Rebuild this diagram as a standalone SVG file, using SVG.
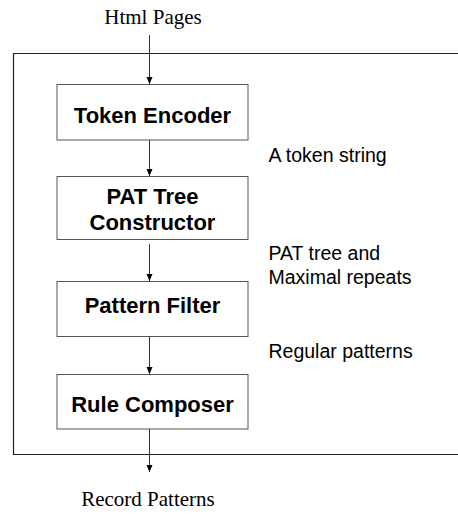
<svg xmlns="http://www.w3.org/2000/svg" width="458" height="514" viewBox="0 0 458 514">
  <style>
    .box { fill: #ffffff; stroke: #555555; stroke-width: 1; }
    .frame { fill: none; stroke: #222222; stroke-width: 1.2; }
    .title { font-family: "Liberation Sans", Arial, sans-serif; font-weight: bold; font-size: 22px; fill: #000000; text-anchor: middle; }
    .note { font-family: "Liberation Sans", Arial, sans-serif; font-size: 19.5px; fill: #000000; }
    .io { font-family: "Liberation Serif", "Times New Roman", serif; font-size: 21px; fill: #000000; text-anchor: middle; }
    .flow { stroke: #333333; stroke-width: 1; fill: none; marker-end: url(#head); }
  </style>
  <defs>
    <marker id="head" viewBox="0 0 7 7" refX="7" refY="3.5" markerWidth="7" markerHeight="7" orient="auto" markerUnits="userSpaceOnUse">
      <path d="M0,0.5 L7,3.5 L0,6.5 Z" fill="#000000"/>
    </marker>
  </defs>

  <rect width="458" height="514" fill="#ffffff"/>

  <!-- system boundary (open to the right) -->
  <path class="frame" d="M460,53.5 H13.5 V454.5 H460"/>

  <!-- external input / output -->
  <text class="io" x="153" y="23.5">Html Pages</text>
  <text class="io" x="148" y="506">Record Patterns</text>

  <g id="connectors">
    <line class="flow" x1="149.5" y1="35" x2="149.5" y2="84"/>
    <line class="flow" x1="149.5" y1="140" x2="149.5" y2="176"/>
    <line class="flow" x1="149.5" y1="244" x2="149.5" y2="281"/>
    <line class="flow" x1="149.5" y1="337" x2="149.5" y2="374"/>
    <line class="flow" x1="149.5" y1="429" x2="149.5" y2="472"/>
  </g>

  <g id="token-encoder">
    <rect class="box" x="57" y="84.5" width="191" height="55.5"/>
    <text class="title" x="152.5" y="123">Token Encoder</text>
  </g>

  <g id="pat-tree-constructor">
    <rect class="box" x="57" y="176.5" width="191" height="63"/>
    <text class="title" x="152.5" y="203.5">PAT Tree</text>
    <text class="title" x="152.5" y="230">Constructor</text>
  </g>

  <g id="pattern-filter">
    <rect class="box" x="57" y="281.5" width="191" height="55"/>
    <text class="title" x="152.5" y="312.5">Pattern Filter</text>
  </g>

  <g id="rule-composer">
    <rect class="box" x="57" y="374.5" width="191" height="54.5"/>
    <text class="title" x="152.5" y="411.5">Rule Composer</text>
  </g>

  <!-- data passed between stages -->
  <g id="annotations">
    <text class="note" x="268.5" y="161.5">A token string</text>
    <text class="note" x="268.5" y="259.5">PAT tree and</text>
    <text class="note" x="268.5" y="284">Maximal repeats</text>
    <text class="note" x="268.5" y="357.5">Regular patterns</text>
  </g>
</svg>
